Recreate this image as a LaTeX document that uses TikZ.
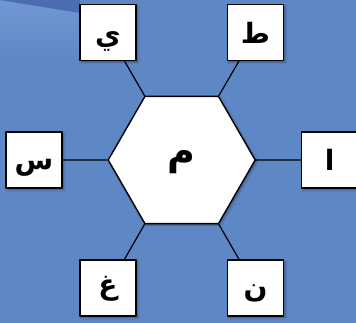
\documentclass[tikz,border=0pt]{standalone}
\usepackage{fontspec}
\newfontfamily\arabicfont[Script=Arabic]{DejaVu Sans}
\TeXXeTstate=1
\usetikzlibrary{shapes.geometric,shadows.blur}
\definecolor{bgblue}{RGB}{94,135,198}
\definecolor{darkband}{RGB}{76,108,178}
\definecolor{lightblue}{RGB}{112,152,212}
\tikzset{
	letterbox/.style={draw=black,fill=white,line width=1.4pt,minimum size=56pt,inner sep=0pt,
		blur shadow={shadow xshift=1.5pt,shadow yshift=-1.5pt,shadow blur steps=6,shadow opacity=35}},
	hexnode/.style={regular polygon,regular polygon sides=6,draw=black,fill=white,line width=1.4pt,
		minimum size=147pt,inner sep=0pt,
		blur shadow={shadow xshift=1.5pt,shadow yshift=-1.5pt,shadow blur steps=6,shadow opacity=35}},
	spoke/.style={line width=1.2pt}
}
% letter, lowered by #1 pt inside its box
\newcommand{\ar}[3][28]{\setbox0\hbox{\arabicfont\bfseries\fontsize{#1}{#1}\selectfont\beginR #3\endR}%
	\raisebox{#2pt}[\ht0][\dp0]{\copy0}}
\begin{document}
\begin{tikzpicture}[x=1pt,y=1pt,line join=round,line cap=round]
	% background with the swoosh in the corner
	\useasboundingbox (-181.7,-163) rectangle (174.3,160);
	\fill[bgblue] (-181.7,-163) rectangle (174.3,160);
	\shade[top color=lightblue,bottom color=bgblue] (-181.7,160) -- (-101.7,147) -- (-101.7,100)
		-- (-181.7,100) -- cycle;
	\fill[darkband] (-181.7,160) -- (-101.7,147) -- (-101.7,160) -- cycle;
	
	\node[hexnode] (mim) at (0,0) {\ar[38]{-2}{م}};
	
	\node[letterbox] (ya) at (-73.7,127.3) {\ar{-9}{ي}};
	\node[letterbox] (ta) at (73.8,127.3) {\ar{0}{ط}};
	\node[letterbox] (sin) at (-147.7,0) {\ar{-8}{س}};
	\node[letterbox] (alif) at (148,0) {\ar{0}{ا}};
	\node[letterbox] (ghayn) at (-73.7,-128) {\ar{-1}{غ}};
	\node[letterbox] (nun) at (73.8,-128) {\ar{-5}{ن}};
	
	\draw[spoke] (mim.120) -- (ya);
	\draw[spoke] (mim.60) -- (ta);
	\draw[spoke] (mim.180) -- (sin);
	\draw[spoke] (mim.0) -- (alif);
	\draw[spoke] (mim.240) -- (ghayn);
	\draw[spoke] (mim.300) -- (nun);
\end{tikzpicture}
\end{document}
